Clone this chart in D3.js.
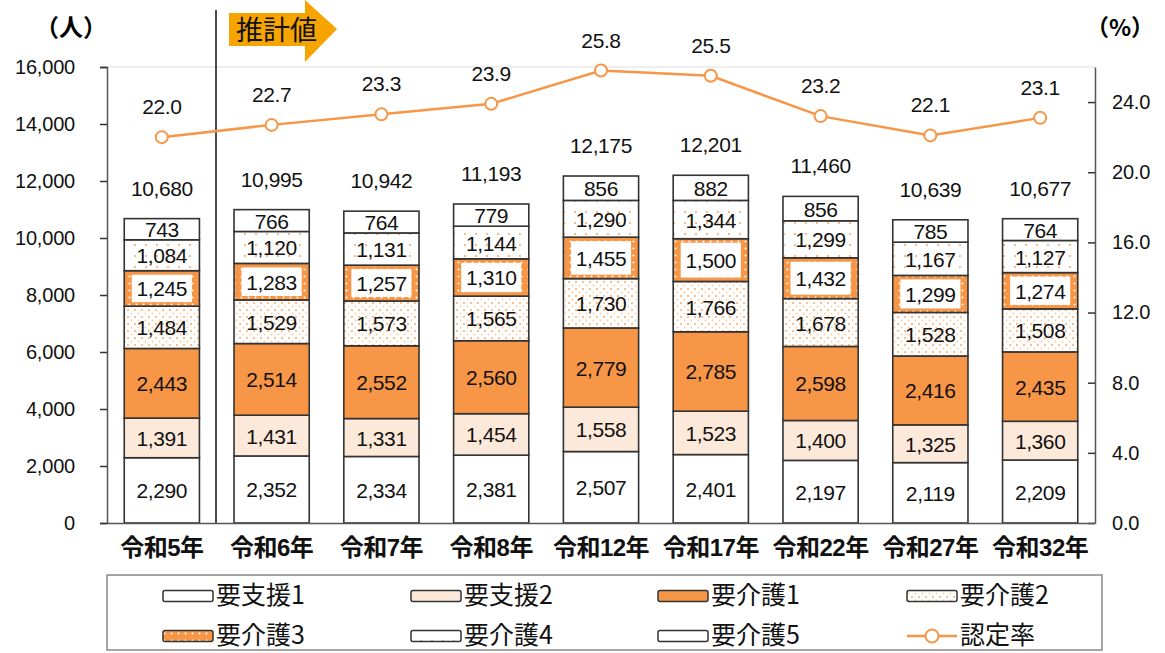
<!DOCTYPE html>
<html><head><meta charset="utf-8">
<script src="https://cdn.jsdelivr.net/npm/d3@7"></script>
<style>
body{margin:0;background:#fff;}
text{font-family:"Liberation Sans","Noto Sans CJK JP",sans-serif;}
.jp{font-family:"Noto Sans CJK JP",sans-serif;}
</style></head><body>
<svg id="c" width="1165" height="653"></svg>
<script>
const categories = ["令和5年","令和6年","令和7年","令和8年","令和12年","令和17年","令和22年","令和27年","令和32年"];
const seriesNames = ["要支援1","要支援2","要介護1","要介護2","要介護3","要介護4","要介護5"];
const shien1 = [2290,2352,2334,2381,2507,2401,2197,2119,2209];
const shien2 = [1391,1431,1331,1454,1558,1523,1400,1325,1360];
const kaigo1 = [2443,2514,2552,2560,2779,2785,2598,2416,2435];
const kaigo2 = [1484,1529,1573,1565,1730,1766,1678,1528,1508];
const kaigo3 = [1245,1283,1257,1310,1455,1500,1432,1299,1274];
const kaigo4 = [1084,1120,1131,1144,1290,1344,1299,1167,1127];
const kaigo5 = [743,766,764,779,856,882,856,785,764];
const totals = [10680,10995,10942,11193,12175,12201,11460,10639,10677];
const rate = [22.0,22.7,23.3,23.9,25.8,25.5,23.2,22.1,23.1];
const leftTicks = [0,2000,4000,6000,8000,10000,12000,14000,16000];
const rightTicks = [0,4,8,12,16,20,24];

const svg = d3.select("#c");
const defs = svg.append("defs");
const OR = "#F79646";
const NUMFS = 21, NUMLS = -0.4;
// patterns
const p2 = defs.append("pattern").attr("id","pk2").attr("patternUnits","userSpaceOnUse").attr("width",7).attr("height",7);
p2.append("rect").attr("width",7).attr("height",7).attr("fill","#fff");
p2.append("circle").attr("cx",2).attr("cy",2).attr("r",1).attr("fill",OR).attr("opacity",0.8);
p2.append("circle").attr("cx",5.5).attr("cy",5.5).attr("r",0.9).attr("fill",OR).attr("opacity",0.5);
const p3 = defs.append("pattern").attr("id","pk3").attr("patternUnits","userSpaceOnUse").attr("width",7).attr("height",7);
p3.append("rect").attr("width",7).attr("height",7).attr("fill",OR);
p3.append("circle").attr("cx",3.5).attr("cy",3.5).attr("r",1).attr("fill","#fff");
const p4 = defs.append("pattern").attr("id","pk4").attr("patternUnits","userSpaceOnUse").attr("width",11).attr("height",11);
p4.append("rect").attr("width",11).attr("height",11).attr("fill","#fff");
p4.append("circle").attr("cx",3).attr("cy",3).attr("r",1.1).attr("fill",OR).attr("opacity",0.8);
const fills = ["#fff","#FDE9D9",OR,"url(#pk2)","url(#pk3)","url(#pk4)","#fff"];

const data = categories.map((c,i)=>({cat:c, "要支援1":shien1[i],"要支援2":shien2[i],"要介護1":kaigo1[i],"要介護2":kaigo2[i],"要介護3":kaigo3[i],"要介護4":kaigo4[i],"要介護5":kaigo5[i]}));
const stack = d3.stack().keys(seriesNames)(data);

const L=107,R=1095,T=67,B=523;
const x = d3.scaleBand().domain(categories).range([L,R]).paddingInner(0.315).paddingOuter(0.157);
const y = d3.scaleLinear().domain([0,16000]).range([B,T]);
const y2 = d3.scaleLinear().domain([0,26]).range([B,T]);

svg.append("line").attr("x1",L).attr("x2",R).attr("y1",T).attr("y2",T).attr("stroke","#ddd").attr("stroke-width",1);

// bars
stack.forEach((s,si)=>{
  const g = svg.append("g");
  g.selectAll("rect").data(s).enter().append("rect")
    .attr("x",d=>x(d.data.cat)).attr("width",x.bandwidth())
    .attr("y",d=>y(d[1])).attr("height",d=>y(d[0])-y(d[1]))
    .attr("fill",fills[si]).attr("stroke","#333").attr("stroke-width",1.6);
  if(si===4){
    g.selectAll("rect.bg").data(s).enter().append("rect").attr("class","bg")
      .attr("x",d=>x(d.data.cat)+x.bandwidth()*0.1).attr("width",x.bandwidth()*0.8)
      .attr("y",d=>y(d[1])+4).attr("height",d=>y(d[0])-y(d[1])-8)
      .attr("fill","#fff");
  }
  g.selectAll("text").data(s).enter().append("text")
    .attr("x",d=>x(d.data.cat)+x.bandwidth()/2)
    .attr("y",d=>(y(d[0])+y(d[1]))/2+8)
    .attr("text-anchor","middle").attr("font-size",NUMFS).attr("letter-spacing",NUMLS)
    .attr("fill","#111")
    .text(d=>d3.format(",")(d[1]-d[0]));
});
// totals
svg.append("g").selectAll("text").data(totals).enter().append("text")
  .attr("x",(d,i)=>x(categories[i])+x.bandwidth()/2)
  .attr("y",d=>y(d)-23)
  .attr("text-anchor","middle").attr("font-size",NUMFS).attr("letter-spacing",NUMLS).attr("fill","#111")
  .text(d=>d3.format(",")(d));

// axes
const axL = d3.axisLeft(y).tickValues(leftTicks).tickFormat(d3.format(",")).tickSize(7);
const gL = svg.append("g").attr("transform",`translate(${L},0)`).call(axL);
const axR = d3.axisRight(y2).tickValues(rightTicks).tickFormat(d3.format(".1f")).tickSize(0).tickPadding(17);
const gR = svg.append("g").attr("transform",`translate(${R},0)`).call(axR);
gR.selectAll(".tick").append("line").attr("x1",-7).attr("x2",0).attr("stroke","#333");
[gL,gR].forEach(g=>{
  g.select(".domain").attr("stroke","#555").attr("stroke-width",1.5);
  g.selectAll(".tick line").attr("stroke","#333").attr("stroke-width",1.5);
  g.selectAll("text").attr("font-size",20).attr("letter-spacing",-0.2).attr("fill","#111")
   .attr("font-family","Liberation Sans, sans-serif");
});
gL.selectAll("text").attr("dx",-22);
const axB = d3.axisBottom(x).tickSize(0).tickPadding(16);
const gB = svg.append("g").attr("transform",`translate(0,${B})`).call(axB);
gB.select(".domain").attr("stroke","#555").attr("stroke-width",1.5);
gB.selectAll("text").attr("font-size",24).attr("font-weight","bold").attr("fill","#111")
  .attr("font-family","Noto Sans CJK JP, sans-serif").attr("letter-spacing",-0.5);

// unit labels
svg.append("text").attr("class","jp").attr("x",71).attr("y",36).attr("text-anchor","middle")
  .attr("font-size",24).attr("font-weight","bold").text("（人）");
svg.append("text").attr("class","jp").attr("x",1120).attr("y",36).attr("text-anchor","middle")
  .attr("font-size",23).attr("font-weight","bold").text("（%）");

// separator
svg.append("line").attr("x1",216).attr("x2",216).attr("y1",10).attr("y2",B).attr("stroke","#111").attr("stroke-width",1.5);
// arrow
svg.append("polygon").attr("points","229,13 305,13 305,0 337,29 305,62 305,46 229,46").attr("fill","#F5A400");
svg.append("text").attr("class","jp").attr("x",236).attr("y",40).attr("font-size",27).attr("fill","#111").text("推計値");

// line
const line = d3.line().x((d,i)=>x(categories[i])+x.bandwidth()/2).y(d=>y2(d));
svg.append("path").datum(rate).attr("d",line).attr("fill","none").attr("stroke",OR).attr("stroke-width",2.5);
svg.append("g").selectAll("circle").data(rate).enter().append("circle")
  .attr("cx",(d,i)=>x(categories[i])+x.bandwidth()/2).attr("cy",d=>y2(d)).attr("r",6)
  .attr("fill","#fff").attr("stroke",OR).attr("stroke-width",2);
svg.append("g").selectAll("text").data(rate).enter().append("text")
  .attr("x",(d,i)=>x(categories[i])+x.bandwidth()/2).attr("y",d=>y2(d)-23)
  .attr("text-anchor","middle").attr("font-size",NUMFS).attr("letter-spacing",NUMLS).attr("fill","#111")
  .text(d=>d.toFixed(1));

// legend
svg.append("rect").attr("x",107).attr("y",575).attr("width",995).attr("height",75)
  .attr("fill","#fff").attr("stroke","#888").attr("stroke-width",1.5);
const legItems = seriesNames.map((n,i)=>({name:n, fill:fills[i], type:"bar"})).concat([{name:"認定率",type:"line"}]);
const colX = [163,411,658,907];
const rowY = [596,636];
legItems.forEach((it,i)=>{
  const cx = colX[i%4], cy = rowY[Math.floor(i/4)];
  if(it.type==="bar"){
    svg.append("rect").attr("x",cx).attr("y",cy-5.5).attr("width",50).attr("height",11).attr("rx",2)
      .attr("fill",it.fill).attr("stroke","#333").attr("stroke-width",1.5);
  } else {
    svg.append("line").attr("x1",cx).attr("x2",cx+50).attr("y1",cy).attr("y2",cy).attr("stroke",OR).attr("stroke-width",2.5);
    svg.append("circle").attr("cx",cx+25).attr("cy",cy).attr("r",6.5).attr("fill","#fff").attr("stroke",OR).attr("stroke-width",2);
  }
  svg.append("text").attr("class","jp").attr("x",cx+53).attr("y",cy+8).attr("font-size",25).attr("fill","#111").text(it.name);
});
</script></body></html>
